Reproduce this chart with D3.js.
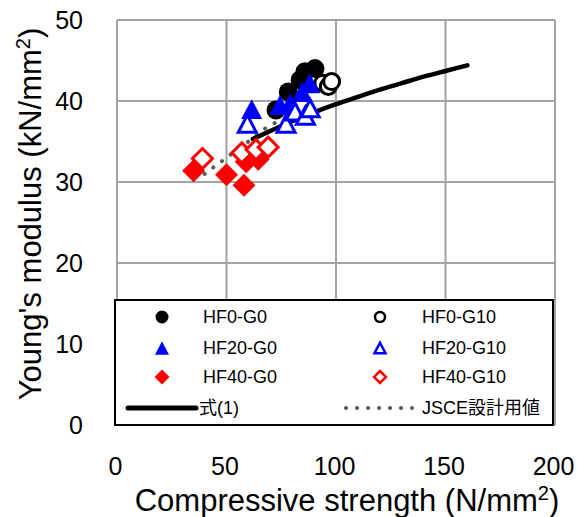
<!DOCTYPE html>
<html>
<head>
<meta charset="utf-8">
<script src="https://cdn.jsdelivr.net/npm/d3@7"></script>
<style>
  html, body { margin: 0; padding: 0; background: #fff; }
  svg { display: block; }
  text { font-family: "Liberation Sans", Arial, "Noto Sans CJK JP", sans-serif; fill: #000; }
</style>
</head>
<body>
<svg id="chart" width="582" height="517"></svg>
<script>
// Compressive strength (N/mm2) vs. Young's modulus (kN/mm2)
const xTicks = [0, 50, 100, 150, 200];
const yTicks = [0, 10, 20, 30, 40, 50];

// Test series: [compressive strength, Young's modulus]
const hf0g0   = [[72.6, 38.9], [78.2, 41.1], [83.6, 42.6], [85.8, 43.6], [90.4, 44.0]];
const hf0g10  = [[94.0, 42.2], [96.5, 41.8], [98.0, 42.4]];
const hf20g0  = [[61.5, 39.0], [74.4, 39.5], [79.0, 39.7], [84.5, 41.1], [88.0, 42.2]];
const hf20g10 = [[59.5, 37.2], [77.2, 37.2], [81.3, 38.7], [86.0, 38.2], [88.2, 39.1]];
const hf40g0  = [[35.0, 31.4], [50.0, 30.9], [58.0, 29.6], [59.0, 32.5], [64.5, 32.8]];
const hf40g10 = [[39.0, 32.9], [57.0, 33.6], [63.5, 34.0], [69.0, 34.3]];

// Eq. (1) curve and JSCE design values
const eq1X = [62, 70, 80, 90, 100, 110, 120, 130, 140, 150, 160];
const eq1Y = [35.3, 36.3, 37.5, 38.6, 39.6, 40.5, 41.4, 42.2, 43.0, 43.7, 44.4];
const jsceX = [40, 50, 60, 70, 80];
const jsceY = [31, 33, 35, 37, 38];

const legendLabels = ["HF0-G0", "HF0-G10", "HF20-G0", "HF20-G10", "HF40-G0", "HF40-G10", "式(1)", "JSCE設計用値"];

const svg = d3.select("#chart");
const x = d3.scaleLinear().domain([0, 200]).range([117, 555]);
const y = d3.scaleLinear().domain([0, 50]).range([425, 20]);

// grid
const grid = svg.append("g").attr("stroke", "#a3a3a3").attr("stroke-width", 2);
grid.selectAll(".gx").data(xTicks).join("line")
  .attr("x1", d => x(d)).attr("x2", d => x(d)).attr("y1", y(0)).attr("y2", y(50));
grid.selectAll(".gy").data(yTicks).join("line")
  .attr("y1", d => y(d)).attr("y2", d => y(d)).attr("x1", x(0)).attr("x2", x(200));

// axes (labels only; lines come from the grid)
const xAxis = svg.append("g").attr("transform", `translate(-2,466)`)
  .call(d3.axisBottom(x).tickValues(xTicks).tickSize(0).tickPadding(0));
xAxis.select(".domain").remove();
xAxis.selectAll("text").attr("font-size", 25).attr("dy", "0.35em").attr("y", 0)
  .attr("font-family", "Liberation Sans, Arial, sans-serif");

const yAxis = svg.append("g").attr("transform", `translate(83,0)`)
  .call(d3.axisLeft(y).tickValues(yTicks).tickSize(0).tickPadding(0));
yAxis.select(".domain").remove();
yAxis.selectAll("text").attr("font-size", 25).attr("x", 0).attr("dy", "0.35em")
  .attr("font-family", "Liberation Sans, Arial, sans-serif");

// axis titles
const xt = svg.append("text").attr("x", 347).attr("y", 500).attr("dy", "0.35em")
  .attr("text-anchor", "middle").attr("font-size", 31);
xt.append("tspan").text("Compressive strength (N/mm");
xt.append("tspan").attr("font-size", 20).attr("dy", "-0.55em").text("2");
xt.append("tspan").attr("dy", "0.35em").text(")");

const yt = svg.append("text").attr("transform", "translate(30,214) rotate(-90)")
  .attr("text-anchor", "middle").attr("dy", "0.35em").attr("font-size", 31);
yt.append("tspan").text("Young's modulus (kN/mm");
yt.append("tspan").attr("font-size", 20).attr("dy", "-0.55em").text("2");
yt.append("tspan").attr("dy", "0.35em").text(")");

// lines
const eq1 = eq1X.map((v, i) => [v, eq1Y[i]]);
const jsce = jsceX.map((v, i) => [v, jsceY[i]]);
const lineGen = d3.line().x(d => x(d[0])).y(d => y(d[1])).curve(d3.curveMonotoneX);

svg.append("path").datum(jsce).attr("d", lineGen)
  .attr("fill", "none").attr("stroke", "#595959").attr("stroke-width", 4)
  .attr("stroke-linecap", "round").attr("stroke-dasharray", "0.1 10.7");
svg.append("path").datum(eq1).attr("d", lineGen)
  .attr("fill", "none").attr("stroke", "#000").attr("stroke-width", 4.5)
  .attr("stroke-linecap", "round");

// marker shapes
function tri(s) { const h = s * 0.95; return `M0,${-h / 2}L${s / 2},${h / 2}L${-s / 2},${h / 2}Z`; }
function dia(s) { const r = s / 2; return `M0,${-r}L${r},0L0,${r}L${-r},0Z`; }

const series = [
  { data: hf0g0,   shape: "circle",  color: "#000", open: false },
  { data: hf0g10,  shape: "circle",  color: "#000", open: true },
  { data: hf20g0,  shape: "tri",     color: "#0000ff", open: false },
  { data: hf20g10, shape: "tri",     color: "#0000ff", open: true },
  { data: hf40g0,  shape: "dia",     color: "#ff0000", open: false },
  { data: hf40g10, shape: "dia",     color: "#ff0000", open: true }
];

function drawMarker(g, s, size) {
  if (s.shape === "circle") {
    g.append("circle").attr("r", s.open ? size / 2 - 1.5 : size / 2);
  } else if (s.shape === "tri") {
    g.append("path").attr("d", tri(s.open ? size - 3 : size));
  } else {
    g.append("path").attr("d", dia(s.open ? size - 3 : size));
  }
  g.selectAll("*")
    .attr("fill", s.open ? "#fff" : s.color)
    .attr("stroke", s.open ? s.color : "none")
    .attr("stroke-width", s.open ? 3 : 0);
}

const sizes = { circle: 19, tri: 21, dia: 23 };
series.forEach(s => {
  svg.append("g").selectAll("g").data(s.data).join("g")
    .attr("transform", d => `translate(${x(d[0])},${y(d[1])})`)
    .each(function () { drawMarker(d3.select(this), s, sizes[s.shape]); });
});

// legend
const lg = svg.append("g");
lg.append("rect").attr("x", 115).attr("y", 300).attr("width", 438).attr("height", 125)
  .attr("fill", "#fff").attr("stroke", "#000").attr("stroke-width", 2);

const rowY = [317, 348, 377, 408];
const colMarkX = [162, 380];
const colTextX = [203, 422];
const lsizes = { circle: 13, tri: 14, dia: 15 };
series.forEach((s, i) => {
  const col = i % 2, row = Math.floor(i / 2);
  const g = lg.append("g").attr("transform", `translate(${colMarkX[col]},${rowY[row]})`);
  drawMarker(g, s, lsizes[s.shape]);
  g.selectAll("*").attr("stroke-width", s.open ? 2.5 : 0);
  lg.append("text").attr("x", colTextX[col]).attr("y", rowY[row]).attr("dy", "0.35em")
    .attr("font-size", 18).text(legendLabels[i]);
});
lg.append("line").attr("x1", 128).attr("x2", 196).attr("y1", rowY[3]).attr("y2", rowY[3])
  .attr("stroke", "#000").attr("stroke-width", 5).attr("stroke-linecap", "round");
lg.append("text").attr("x", 199).attr("y", rowY[3]).attr("dy", "0.35em").attr("font-size", 18)
  .text(legendLabels[6]);
lg.append("line").attr("x1", 346).attr("x2", 412).attr("y1", rowY[3]).attr("y2", rowY[3])
  .attr("stroke", "#595959").attr("stroke-width", 4)
  .attr("stroke-linecap", "round").attr("stroke-dasharray", "0.1 10.9");
lg.append("text").attr("x", 422).attr("y", rowY[3]).attr("dy", "0.35em").attr("font-size", 18)
  .text(legendLabels[7]);
</script>
</body>
</html>
